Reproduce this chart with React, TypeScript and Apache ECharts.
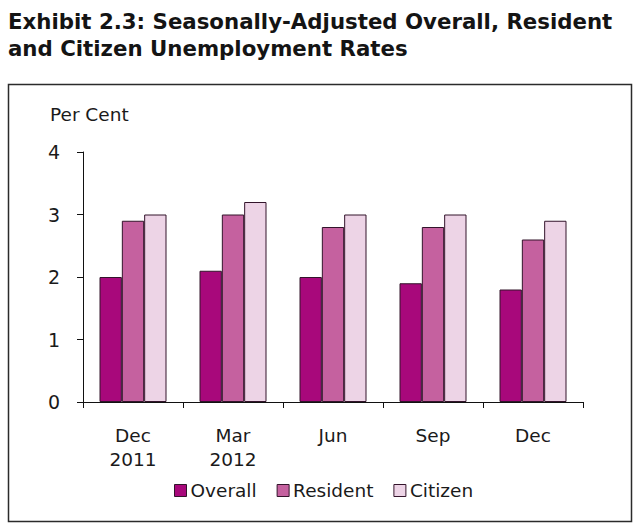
import React, { useEffect, useRef } from "react";
import * as echarts from "echarts";

const categories = ["Dec\n2011", "Mar\n2012", "Jun", "Sep", "Dec"];
const overall = [2.0, 2.1, 2.0, 1.9, 1.8];
const resident = [2.9, 3.0, 2.8, 2.8, 2.6];
const citizen = [3.0, 3.2, 3.0, 3.0, 2.9];
const seriesNames = ["Overall", "Resident", "Citizen"];
const colors = ["#A8087B", "#C5619F", "#EDD4E6"];
const yTicks = { min: 0, max: 4, interval: 1 };

const FONT = "DejaVu Sans";
const TEXT = "#1a1a1a";
const BORDER = "#33142b";

export default function App() {
  const ref = useRef<HTMLDivElement>(null);
  useEffect(() => {
    if (!ref.current) return;
    const chart = echarts.init(ref.current, undefined, { renderer: "svg" });
    const data = [overall, resident, citizen];
    chart.setOption({
      animation: false,
      backgroundColor: "#ffffff",
      title: {
        text: "Exhibit 2.3: Seasonally-Adjusted Overall, Resident\nand Citizen Unemployment Rates",
        left: 8,
        top: 8,
        padding: 0,
        textStyle: {
          fontFamily: FONT,
          fontWeight: "bold",
          fontSize: 21.3,
          lineHeight: 27,
          color: "#141414",
        },
      },
      graphic: [
        {
          type: "rect",
          shape: { x: 8.5, y: 84.5, width: 623, height: 437 },
          style: { fill: "none", stroke: "#2b2b2b", lineWidth: 1.5 },
          z: 0,
        },
        {
          type: "text",
          left: 50,
          top: 105,
          style: { text: "Per Cent", fontFamily: FONT, fontSize: 18.5, fill: TEXT },
        },
      ],
      legend: {
        data: seriesNames,
        left: 174,
        top: 481,
        padding: 0,
        itemWidth: 12,
        itemHeight: 12,
        itemGap: 20,
        icon: "rect",
        textStyle: { fontFamily: FONT, fontSize: 18.5, color: TEXT, padding: [0, 0, 0, -1] },
        itemStyle: { borderColor: BORDER, borderWidth: 1 },
      },
      grid: { left: 83, right: 61, top: 152, bottom: 130, containLabel: false },
      xAxis: {
        type: "category",
        data: categories,
        boundaryGap: true,
        axisLine: { show: true, lineStyle: { color: "#111", width: 1 } },
        axisTick: { show: true, length: 6, alignWithLabel: false, lineStyle: { color: "#111" } },
        axisLabel: {
          fontFamily: FONT,
          fontSize: 18.5,
          lineHeight: 24,
          color: TEXT,
          margin: 21,
          interval: 0,
        },
      },
      yAxis: {
        type: "value",
        min: yTicks.min,
        max: yTicks.max,
        interval: yTicks.interval,
        axisLine: { show: true, lineStyle: { color: "#111", width: 1 } },
        axisTick: { show: true, length: 6, lineStyle: { color: "#111" } },
        splitLine: { show: false },
        axisLabel: { fontFamily: FONT, fontSize: 19, color: TEXT, margin: 23 },
      },
      series: seriesNames.map((name, i) => ({
        name,
        type: "bar",
        data: data[i],
        barGap: "0%",
        barCategoryGap: "33%",
        itemStyle: { color: colors[i], borderColor: BORDER, borderWidth: 1 },
      })),
    });
    return () => chart.dispose();
  }, []);
  return (
    <div
      ref={ref}
      style={{ position: "absolute", left: 0, top: 0, width: 644, height: 532 }}
    />
  );
}
